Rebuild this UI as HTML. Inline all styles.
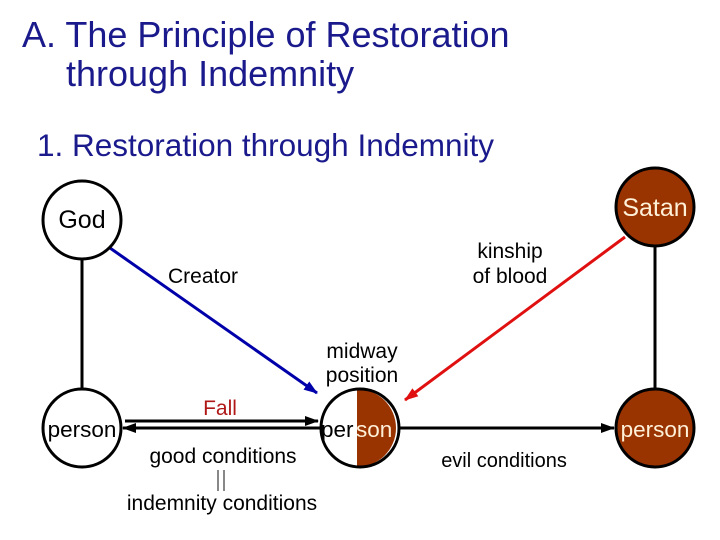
<html><body style="margin:0;width:720px;height:540px;background:#fff;position:relative;font-family:'Liberation Sans',sans-serif;overflow:hidden">
<div style="position:absolute;left:22px;top:15px;font-size:36px;line-height:39px;color:#1a1a8c;white-space:nowrap">A. The Principle of Restoration<br><span style="padding-left:44px">through Indemnity</span></div>
<div style="position:absolute;left:37px;top:127px;font-size:31.5px;color:#1a1a8c;white-space:nowrap">1. Restoration through Indemnity</div>
<svg width="720" height="540" style="position:absolute;left:0;top:0">
<defs>
<marker id="ab" markerWidth="14" markerHeight="10" refX="13" refY="5" orient="auto" markerUnits="userSpaceOnUse"><path d="M0,0 L14,5 L0,10z" fill="#0000aa"/></marker>
<marker id="ar" markerWidth="14" markerHeight="10" refX="13" refY="5" orient="auto" markerUnits="userSpaceOnUse"><path d="M0,0 L14,5 L0,10z" fill="#e01010"/></marker>
<marker id="ak" markerWidth="14" markerHeight="10" refX="13" refY="5" orient="auto" markerUnits="userSpaceOnUse"><path d="M0,0 L14,5 L0,10z" fill="#000"/></marker>
</defs>
<line x1="82" y1="258" x2="82" y2="390" stroke="#000" stroke-width="3"/>
<line x1="655" y1="245" x2="655" y2="390" stroke="#000" stroke-width="3"/>
<line x1="110" y1="248" x2="317" y2="393" stroke="#0000aa" stroke-width="3" marker-end="url(#ab)"/>
<line x1="625" y1="237" x2="405" y2="400" stroke="#e01010" stroke-width="3" marker-end="url(#ar)"/>
<line x1="125" y1="421" x2="318" y2="421" stroke="#000" stroke-width="3" marker-end="url(#ak)"/>
<line x1="320" y1="428" x2="123" y2="428" stroke="#000" stroke-width="3" marker-end="url(#ak)"/>
<line x1="400" y1="428" x2="614" y2="428" stroke="#000" stroke-width="3" marker-end="url(#ak)"/>
<circle cx="82" cy="220" r="39" fill="#fff" stroke="#000" stroke-width="3"/>
<circle cx="82" cy="428" r="39" fill="#fff" stroke="#000" stroke-width="3"/>
<circle cx="655" cy="207" r="39" fill="#993300" stroke="#000" stroke-width="3"/>
<circle cx="655" cy="428" r="39" fill="#993300" stroke="#000" stroke-width="3"/>
<circle cx="360" cy="428" r="39" fill="#fff"/>
<path d="M357,389 A39,39 0 0 1 357,467 Z" fill="#993300"/>
<circle cx="360" cy="428" r="39" fill="none" stroke="#000" stroke-width="3"/>
<line x1="218" y1="470" x2="218" y2="491" stroke="#888" stroke-width="2"/>
<line x1="224" y1="470" x2="224" y2="491" stroke="#888" stroke-width="2"/>
<g font-family="Liberation Sans, sans-serif" font-size="21">
<text x="82" y="228" text-anchor="middle" font-size="25">God</text>
<text x="655" y="216" text-anchor="middle" font-size="25" fill="#fff0d8">Satan</text>
<text x="82" y="437" text-anchor="middle" font-size="22.5">person</text>
<text x="321" y="437" font-size="22.5">per</text><text x="356" y="437" font-size="22.5" fill="#fff0d8">son</text>
<text x="655" y="437" text-anchor="middle" font-size="22.5" fill="#fff0d8">person</text>
<text x="203" y="283" text-anchor="middle">Creator</text>
<text x="510" y="258" text-anchor="middle">kinship</text>
<text x="510" y="283" text-anchor="middle">of blood</text>
<text x="362" y="358" text-anchor="middle">midway</text>
<text x="362" y="382" text-anchor="middle">position</text>
<text x="220" y="415" text-anchor="middle" fill="#b01818">Fall</text>
<text x="223" y="463" text-anchor="middle">good conditions</text>
<text x="222" y="510" text-anchor="middle">indemnity conditions</text>
<text x="504" y="467" text-anchor="middle" font-size="20">evil conditions</text>
</g>
</svg>
</body></html>
